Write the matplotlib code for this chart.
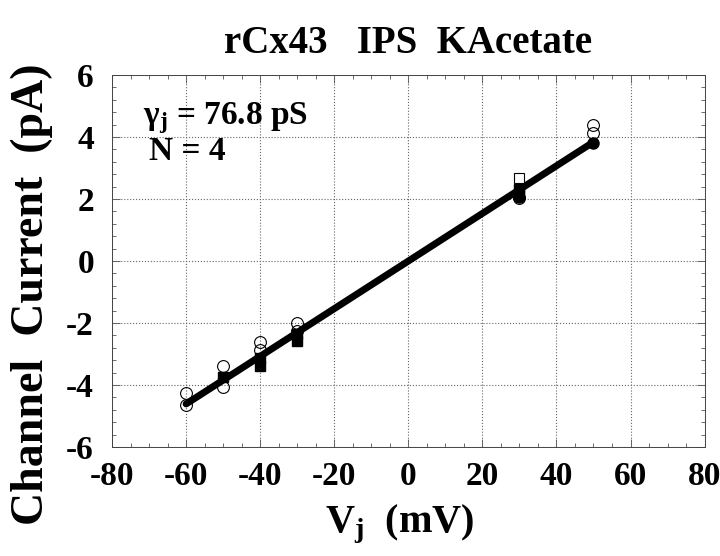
import matplotlib
matplotlib.use("Agg")
import matplotlib.pyplot as plt
from matplotlib.ticker import MultipleLocator

# open circles
circ_x = [-60, -60, -50, -50, -40, -40, -30, -30, 30, 50, 50]
circ_y = [-4.27, -4.66, -3.39, -4.06, -2.62, -2.88, -2.0, -2.25, 2.02, 4.38, 4.14]
# filled squares
fsq_x = [-50, -40, -40, -30, -30, 30, 30]
fsq_y = [-3.74, -3.12, -3.40, -2.35, -2.58, 2.32, 2.15]
# open squares
osq_x = [30]
osq_y = [2.68]
# filled circles
fcirc_x = [30, 50]
fcirc_y = [2.08, 3.82]

# linear fit, 76.8 pS
fit_x = [-60, 50]
fit_y = [-4.61, 3.84]

x_ticks = [-80, -60, -40, -20, 0, 20, 40, 60, 80]
y_ticks = [-6, -4, -2, 0, 2, 4, 6]

plt.rcParams['font.family'] = 'Liberation Serif'
plt.rcParams['font.weight'] = 'bold'
plt.rcParams['axes.unicode_minus'] = False
plt.rcParams['mathtext.fontset'] = 'custom'
plt.rcParams['mathtext.rm'] = 'Liberation Serif:bold'
plt.rcParams['mathtext.bf'] = 'Liberation Serif:bold'
plt.rcParams['mathtext.it'] = 'Liberation Serif:italic:bold'

fig = plt.figure(figsize=(7.2, 5.56), dpi=100)
ax = fig.add_axes([0.1556, 0.196, 0.823, 0.669])

ax.plot(fit_x, fit_y, color='black', linewidth=5, solid_capstyle='round', zorder=3)
ax.plot(circ_x, circ_y, 'o', markersize=8.5, markerfacecolor='none',
        markeredgecolor='black', markeredgewidth=0.8, zorder=4)
ax.plot(fsq_x, fsq_y, 's', markersize=7, color='black', zorder=4)
ax.plot(osq_x, osq_y, 's', markersize=7.5, markerfacecolor='white',
        markeredgecolor='black', markeredgewidth=0.8, zorder=4)
ax.plot(fcirc_x, fcirc_y, 'o', markersize=8, color='black', zorder=4)

ax.set_xlim(-80, 80)
ax.set_ylim(-6, 6)
ax.set_xticks(x_ticks)
ax.set_yticks(y_ticks)
ax.xaxis.set_minor_locator(MultipleLocator(5))
ax.yaxis.set_minor_locator(MultipleLocator(0.4))
ax.tick_params(which='both', direction='in', top=True, right=True,
               width=0.6, color='#555555')
ax.tick_params(which='major', length=6, labelsize=24)
ax.tick_params(axis='x', which='major', pad=10)
ax.tick_params(axis='y', which='major', pad=13)
ax.tick_params(which='minor', length=3)
for lab in ax.get_xticklabels() + ax.get_yticklabels():
    lab.set_fontweight('bold')
for s in ax.spines.values():
    s.set_linewidth(0.7)
    s.set_color('#444444')

ax.grid(True, which='major', linestyle=':', color='#666666', linewidth=0.8)

ax.set_title('rCx43   IPS  KAcetate', fontsize=28, fontweight='bold', pad=16)
ax.set_xlabel(r'V$_\mathrm{j}$  (mV)', fontsize=29, fontweight='bold')
ax.xaxis.set_label_coords(0.486, -0.15)
ax.set_ylabel('Channel  Current  (pA)', fontsize=33, fontweight='bold')
ax.yaxis.set_label_coords(-0.1, 0.41)

ax.text(0.053, 0.885, r'$\mathrm{\gamma_j}$ = 76.8 pS', transform=ax.transAxes,
        fontsize=24, fontweight='bold', va='center')
ax.text(0.062, 0.795, 'N = 4', transform=ax.transAxes,
        fontsize=24, fontweight='bold', va='center')

fig.savefig('out.png', dpi=100)
